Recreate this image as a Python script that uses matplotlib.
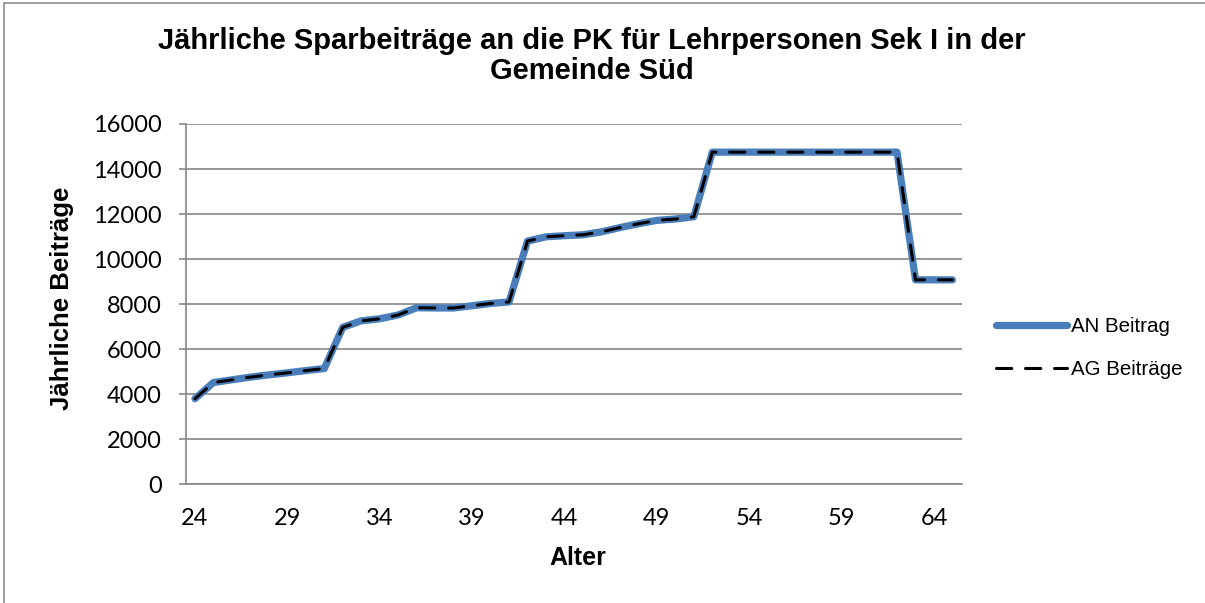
import matplotlib.pyplot as plt
from matplotlib.patches import Rectangle

# --- Data ---
ages = list(range(24, 66))
an_beitrag = [3800, 4520, 4640, 4760, 4860, 4950, 5050, 5140,
              6970, 7260, 7350, 7520, 7840, 7830, 7830, 7930, 8030, 8100,
              10800, 10990, 11040, 11080, 11210, 11400, 11570, 11720, 11780, 11880,
              14750, 14750, 14750, 14750, 14750, 14750, 14750, 14750, 14750, 14750, 14750,
              9080, 9080, 9080]
ag_beitraege = [3800, 4520, 4640, 4760, 4860, 4950, 5050, 5140,
                6970, 7260, 7350, 7520, 7840, 7830, 7830, 7930, 8030, 8100,
                10800, 10990, 11040, 11080, 11210, 11400, 11570, 11720, 11780, 11880,
                14750, 14750, 14750, 14750, 14750, 14750, 14750, 14750, 14750, 14750, 14750,
                9080, 9080, 9080]
y_ticks = [0, 2000, 4000, 6000, 8000, 10000, 12000, 14000, 16000]
x_tick_step = 5

W, H = 1205, 603
BLUE = "#4a7ebb"
GRID = "#868686"

fig = plt.figure(figsize=(W / 100, H / 100), dpi=100)

# chart border (clipped on right/bottom like the reference)
fig.patches.append(Rectangle((4 / W, -0.05), 1.1, 1 - 2.5 / H + 0.05,
                             transform=fig.transFigure, fill=False,
                             edgecolor="#8c8c8c", linewidth=1.2))

# --- Plot area (pixel positions) ---
left, right = 185.7, 961.7
top, bottom = 124.0, 484.3
ax = fig.add_axes([left / W, 1 - bottom / H, (right - left) / W, (bottom - top) / H])

x = list(range(len(ages)))
ax.plot(x, an_beitrag, color=BLUE, linewidth=5.2, solid_joinstyle="round",
        solid_capstyle="round", label="AN Beitrag", zorder=3)
ax.plot(x, ag_beitraege, color="black", linewidth=2.2, linestyle=(0, (5, 4.5)),
        dash_capstyle="round", dash_joinstyle="round", label="AG Beiträge", zorder=4)

ax.set_xlim(-0.5, len(ages) - 0.5)
ax.set_ylim(0, 16000)
ax.set_yticks(y_ticks)
ax.set_xticks(x[::x_tick_step])
ax.set_xticklabels([str(a) for a in ages[::x_tick_step]])

for lbl in ax.get_xticklabels() + ax.get_yticklabels():
    lbl.set_fontfamily("Lato")
    lbl.set_fontsize(17)

ax.yaxis.grid(True, color=GRID, linewidth=1.2)
ax.set_axisbelow(True)
for s in ["top", "right"]:
    ax.spines[s].set_visible(False)
ax.spines["left"].set_color(GRID)
ax.spines["left"].set_linewidth(1.2)
ax.spines["bottom"].set_color(GRID)
ax.spines["bottom"].set_linewidth(1.2)
ax.tick_params(axis="y", length=5, width=1.2, color=GRID, pad=12)
ax.tick_params(axis="x", length=0, pad=17)

# --- Texts ---
fig.text(592 / W, 1 - 56 / H,
         "Jährliche Sparbeiträge an die PK für Lehrpersonen Sek I in der\nGemeinde Süd",
         ha="center", va="center", fontsize=21, fontweight="bold",
         family="Liberation Sans", linespacing=1.05)
fig.text(62 / W, 1 - 298 / H, "Jährliche Beiträge", rotation=90,
         ha="center", va="center", fontsize=18.5, fontweight="bold", family="Liberation Sans")
fig.text(578 / W, 1 - 558 / H, "Alter", ha="center", va="center",
         fontsize=18, fontweight="bold", family="Liberation Sans")

leg = ax.legend(loc="center left", bbox_to_anchor=(977 / W, 1 - 348 / H),
                bbox_transform=fig.transFigure, frameon=False,
                prop={"family": "Liberation Sans", "size": 14.8},
                handlelength=3.5, handletextpad=0.15, labelspacing=1.15)

fig.savefig("out.png", dpi=100)
